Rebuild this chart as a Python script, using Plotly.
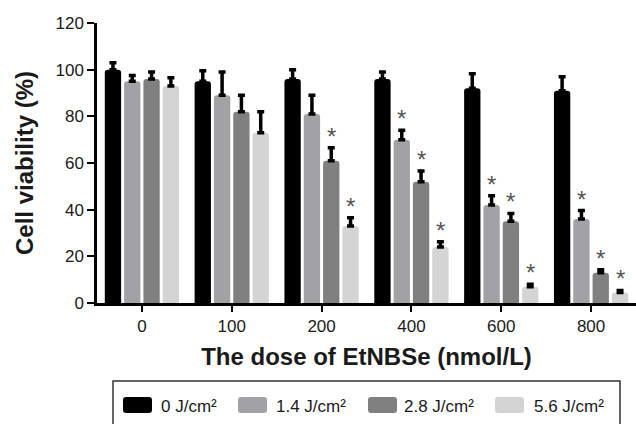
import plotly.graph_objects as go

doses = ["0", "100", "200", "400", "600", "800"]
series_names = ["0 J/cm²", "1.4 J/cm²", "2.8 J/cm²", "5.6 J/cm²"]
v_0 = [100, 95, 96, 96, 92, 91]
v_14 = [95, 89, 81, 70, 42, 36]
v_28 = [96, 82, 61, 52, 35, 13]
v_56 = [93, 73, 33, 24, 7, 4.5]
e_0 = [3, 4.5, 4, 3, 6.3, 6]
e_14 = [2.5, 10, 8, 4, 4, 3.6]
e_28 = [3, 7, 5.5, 4.6, 3.4, 1.3]
e_56 = [3.5, 9, 3.5, 2.3, 1, 0.9]
# significance flags (1 = asterisk)
sig_0 = [0, 0, 0, 0, 0, 0]
sig_14 = [0, 0, 0, 1, 1, 1]
sig_28 = [0, 0, 1, 1, 1, 1]
sig_56 = [0, 0, 1, 1, 1, 1]

colors = ["#000000", "#a2a2a6", "#808080", "#d4d4d4"]
values = [v_0, v_14, v_28, v_56]
errors = [e_0, e_14, e_28, e_56]
sigs = [sig_0, sig_14, sig_28, sig_56]

FONT = "Arial, Liberation Sans, Helvetica, sans-serif"
BARGAP = 0.14

fig = go.Figure()
for name, vals, errs, col in zip(series_names, values, errors, colors):
    fig.add_trace(go.Bar(
        x=doses, y=vals, name=name,
        marker=dict(color=col, line=dict(width=0), cornerradius=3),
        error_y=dict(type="data", array=errs, arrayminus=[0] * len(errs),
                     symmetric=False, visible=True,
                     color="#000000", thickness=3.5, width=3.5),
        showlegend=False,
    ))

# asterisks above error bars
slot = (1 - BARGAP) / 4
annotations = []
for k in range(4):
    off = (k - 1.5) * slot
    for i in range(len(doses)):
        if sigs[k][i]:
            annotations.append(dict(
                x=i + off, y=values[k][i] + errors[k][i], xref="x", yref="y",
                text="*", showarrow=False, yanchor="bottom", yshift=-4,
                font=dict(family=FONT, size=24, color="#555555"),
            ))

# manual legend
L, R_ = 97, 636
T, B = 23, 303
def px(x):
    return (x - L) / (R_ - L)
def py(y):
    return (B - y) / (B - T)

shapes = [dict(type="rect", xref="paper", yref="paper",
               x0=px(113), x1=px(620), y0=py(381), y1=py(445),
               line=dict(color="#333333", width=1.5), fillcolor="rgba(0,0,0,0)")]

def rrect(x0, y0, x1, y1, r):
    pts = (f"M{px(x0 + r)},{py(y0)} L{px(x1 - r)},{py(y0)} "
           f"Q{px(x1)},{py(y0)} {px(x1)},{py(y0 + r)} "
           f"L{px(x1)},{py(y1 - r)} Q{px(x1)},{py(y1)} {px(x1 - r)},{py(y1)} "
           f"L{px(x0 + r)},{py(y1)} Q{px(x0)},{py(y1)} {px(x0)},{py(y1 - r)} "
           f"L{px(x0)},{py(y0 + r)} Q{px(x0)},{py(y0)} {px(x0 + r)},{py(y0)} Z")
    return pts

sw_x = [123, 238, 368, 495]
tx_x = [159, 274, 402, 532]
for name, col, sx, tx in zip(series_names, colors, sw_x, tx_x):
    shapes.append(dict(type="path", xref="paper", yref="paper",
                       path=rrect(sx, 397, sx + 29, 413, 3),
                       fillcolor=col, line=dict(width=0)))
    annotations.append(dict(x=px(tx), y=py(406), xref="paper", yref="paper",
                            text=name, showarrow=False, xanchor="left", yanchor="middle",
                            font=dict(family=FONT, size=17, color="#1a1a1a")))

fig.update_layout(
    width=636, height=424,
    margin=dict(l=97, r=0, t=23, b=121),
    paper_bgcolor="white", plot_bgcolor="white",
    barmode="group", bargap=BARGAP, bargroupgap=0.155,
    font=dict(family=FONT, size=17, color="#1a1a1a"),
    annotations=annotations, shapes=shapes,
    xaxis=dict(
        type="category", range=[-0.5, 5.5],
        showline=True, linecolor="#000000", linewidth=2.5,
        ticks="outside", ticklen=6, tickwidth=2, tickcolor="#000000",
        tickfont=dict(size=17, color="#1a1a1a"),
        title=dict(text="<b>The dose of EtNBSe (nmol/L)</b>",
                   font=dict(size=24, color="#1a1a1a"), standoff=14),
        showgrid=False, zeroline=False,
    ),
    yaxis=dict(
        range=[0, 120], tickvals=[0, 20, 40, 60, 80, 100, 120],
        showline=True, linecolor="#000000", linewidth=2.5,
        ticks="outside", ticklen=7, tickwidth=2, tickcolor="#000000",
        tickfont=dict(size=17, color="#1a1a1a"),
        title=dict(text="<b>Cell viability (%)</b>",
                   font=dict(size=24, color="#1a1a1a"), standoff=16),
        showgrid=False, zeroline=False,
    ),
)

fig.write_html("out.html", config={"displayModeBar": False},
               post_script="document.body.style.margin='0';document.body.style.overflow='hidden';")
